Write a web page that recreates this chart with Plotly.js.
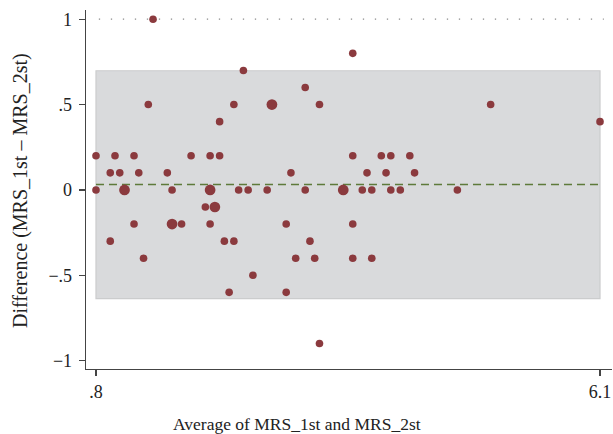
<!DOCTYPE html>
<html>
<head>
<meta charset="utf-8">
<script src="https://cdn.plot.ly/plotly-3.0.1.min.js"></script>
<style>html,body{margin:0;padding:0;background:#fff;}#chart{width:613px;height:434px;}</style>
</head>
<body>
<div id="chart"></div>
<script>
// Average of MRS_1st and MRS_2st
const avgVals = [1.40, 2.35, 1.35, 2.25, 2.10,
  0.80, 1.00, 1.20, 1.80, 2.00, 2.10,
  0.95, 1.05, 1.25, 1.55,
  0.80, 1.10, 1.60, 2.00, 2.30, 2.40,
  1.95, 2.05,
  1.20, 1.60, 1.70, 2.00,
  0.95, 2.15, 2.25,
  1.30, 2.45, 2.20,
  3.50, 3.00, 2.65, 3.15,
  3.50, 3.80, 3.90, 4.10,
  2.85, 3.65, 3.85, 4.15,
  2.60, 3.00, 3.40, 3.60, 3.70, 3.90, 4.00,
  2.80, 3.50,
  3.05,
  2.90, 3.10, 3.50, 3.70,
  2.80, 3.15,
  4.95, 6.10, 4.60];
// Difference (MRS_1st - MRS_2st)
const diffVals = [1.0, 0.7, 0.5, 0.5, 0.4,
  0.2, 0.2, 0.2, 0.2, 0.2, 0.2,
  0.1, 0.1, 0.1, 0.1,
  0, 0, 0, 0, 0, 0,
  -0.1, -0.1,
  -0.2, -0.2, -0.2, -0.2,
  -0.3, -0.3, -0.3,
  -0.4, -0.5, -0.6,
  0.8, 0.6, 0.5, 0.5,
  0.2, 0.2, 0.2, 0.2,
  0.1, 0.1, 0.1, 0.1,
  0, 0, 0, 0, 0, 0, 0,
  -0.2, -0.2,
  -0.3,
  -0.4, -0.4, -0.4, -0.4,
  -0.6, -0.9,
  0.5, 0.4, 0];
// number of observations at each point
const counts = [1, 1, 1, 1, 1,
  1, 1, 1, 1, 1, 1,
  1, 1, 1, 1,
  1, 2, 1, 2, 1, 1,
  1, 2,
  1, 2, 1, 1,
  1, 1, 1,
  1, 1, 1,
  1, 1, 2, 1,
  1, 1, 1, 1,
  1, 1, 1, 1,
  1, 1, 2, 1, 1, 1, 1,
  1, 1,
  1,
  1, 1, 1, 1,
  1, 1,
  1, 1, 1];
const meanDiff = 0.032;
const upperLoA = 0.698;
const lowerLoA = -0.637;
const refLine = 1;
const xTickVals = [0.8, 6.1];
const xTickText = ['.8', '6.1'];
const yTickVals = [-1, -0.5, 0, 0.5, 1];
const yTickText = ['\u22121', '\u2212.5', '0', '.5', '1'];
const xTitle = 'Average of MRS_1st and MRS_2st';
const yTitle = 'Difference (MRS_1st \u2013 MRS_2st)';

const xMin = xTickVals[0], xMax = xTickVals[xTickVals.length - 1];
const sizes = counts.map(n => 7.6 * Math.sqrt(n));
const font = 'Liberation Serif, Times New Roman, serif';
const txt = '#222';

const trace = {
  x: avgVals, y: diffVals, type: 'scatter', mode: 'markers',
  marker: {color: '#8b3a3e', size: sizes, opacity: 1, line: {width: 0}},
  hoverinfo: 'x+y', showlegend: false
};

const layout = {
  width: 613, height: 434,
  margin: {l: 86, r: 1, t: 10, b: 65},
  paper_bgcolor: '#fff', plot_bgcolor: '#fff',
  font: {family: font, size: 18, color: txt},
  xaxis: {
    range: [0.695, 6.226], showgrid: false, zeroline: false,
    showline: true, linecolor: '#444', linewidth: 1.3,
    ticks: 'outside', ticklen: 6, tickwidth: 1.2, tickcolor: '#444',
    tickvals: xTickVals, ticktext: xTickText,
    tickfont: {family: font, size: 18, color: txt}
  },
  yaxis: {
    range: [-1.049, 1.054], showgrid: false, zeroline: false,
    showline: true, linecolor: '#444', linewidth: 1.3,
    ticks: 'outside', ticklen: 6, tickwidth: 1.2, tickcolor: '#444',
    tickvals: yTickVals, ticktext: yTickText, ticklabelstandoff: 3,
    tickfont: {family: font, size: 18, color: txt}
  },
  annotations: [
    {text: xTitle, xref: 'paper', yref: 'paper', x: 0.401, y: -0.153, xanchor: 'center', yanchor: 'middle',
     showarrow: false, font: {family: font, size: 17.5, color: txt}},
    {text: yTitle, xref: 'paper', yref: 'paper', x: -0.1255, y: 0.4986, xanchor: 'center', yanchor: 'middle',
     textangle: -90, showarrow: false, font: {family: font, size: 20, color: txt}}
  ],
  shapes: [
    {type: 'rect', layer: 'below', xref: 'x', yref: 'y', x0: xMin, x1: xMax, y0: lowerLoA, y1: upperLoA,
     fillcolor: '#d9dadc', line: {color: '#cbcccd', width: 1.2}},
    {type: 'line', layer: 'below', xref: 'x', yref: 'y', x0: xMin, x1: xMax, y0: meanDiff, y1: meanDiff,
     line: {color: '#5e7a3a', width: 1.4, dash: '8px,5px'}},
    {type: 'line', layer: 'below', xref: 'x', yref: 'y', x0: xMin + 0.03, x1: xMax + 0.04, y0: refLine, y1: refLine,
     line: {color: '#8a8a8a', width: 1.3, dash: '1.3px,10.7px'}}
  ]
};

Plotly.newPlot('chart', [trace], layout, {displayModeBar: false, staticPlot: true});
</script>
</body>
</html>
